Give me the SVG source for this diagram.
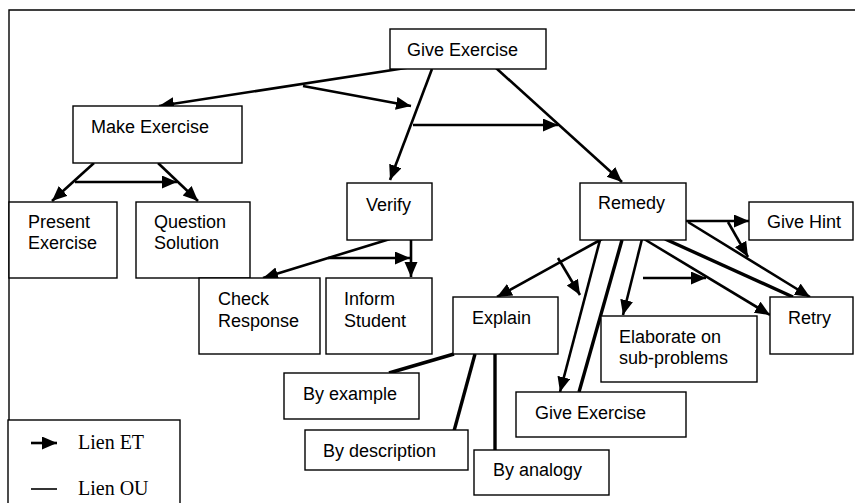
<svg xmlns="http://www.w3.org/2000/svg" width="855" height="503" viewBox="0 0 855 503">
<style>
.box{fill:#fff;stroke:#000;stroke-width:1.4}
.t{font-family:"Liberation Sans",Arial,sans-serif;font-size:18px;fill:#000}
.lt{font-family:"Liberation Serif","Times New Roman",serif;font-size:20px;fill:#000}
.a{stroke:#000;stroke-width:2.6;fill:none;marker-end:url(#ah)}
.o{stroke:#000;stroke-width:3.4;fill:none}
</style>
<defs>
<marker id="ah" markerUnits="userSpaceOnUse" markerWidth="16" markerHeight="14" refX="15" refY="6.5" orient="auto">
<path d="M0,0 L15,6.5 L0,13 z" fill="#000"/>
</marker>
</defs>
<rect width="855" height="503" fill="#fff"/>
<g id="frame"><path d="M9,503 V10 H855" fill="none" stroke="#000" stroke-width="1.4"/></g>
<g id="connectors">
<line class="a" x1="412" y1="67" x2="159" y2="106"/>
<line class="a" x1="303" y1="86" x2="411" y2="106"/>
<line class="a" x1="432" y1="69" x2="390" y2="180"/>
<line class="a" x1="413" y1="125" x2="558" y2="125"/>
<line class="a" x1="496" y1="68" x2="622" y2="182"/>
<line class="a" x1="94" y1="163" x2="52" y2="201"/>
<line class="a" x1="158" y1="163" x2="198" y2="201"/>
<line class="a" x1="75" y1="182" x2="177" y2="182"/>
<line class="a" x1="390" y1="239" x2="263" y2="278"/>
<line class="a" x1="411" y1="240" x2="411" y2="277"/>
<line class="a" x1="328" y1="258" x2="410" y2="258"/>
<line class="a" x1="685" y1="221" x2="749" y2="221"/>
<line class="a" x1="688" y1="222" x2="810" y2="297"/>
<line class="o" x1="665" y1="239" x2="793" y2="297"/>
<line class="a" x1="728" y1="222" x2="748" y2="257"/>
<line class="a" x1="644" y1="239" x2="770" y2="315"/>
<line class="a" x1="643" y1="278" x2="706" y2="278"/>
<line class="a" x1="642" y1="239" x2="623" y2="315"/>
<line class="a" x1="602" y1="239" x2="497" y2="297"/>
<line class="a" x1="558" y1="258" x2="580" y2="295"/>
<line class="a" x1="600" y1="240" x2="560" y2="392"/>
<line class="o" x1="622" y1="240" x2="579" y2="392"/>
<line class="o" x1="454" y1="354" x2="389" y2="373"/>
<line class="o" x1="475" y1="354" x2="454" y2="431"/>
<line class="o" x1="495" y1="354" x2="495" y2="450"/>
</g>
<g id="give-exercise"><rect class="box" x="390" y="29" width="156" height="40"/><text class="t" x="407" y="56">Give Exercise</text></g>
<g id="make-exercise"><rect class="box" x="73" y="106" width="169" height="57"/><text class="t" x="91" y="133">Make Exercise</text></g>
<g id="present-exercise"><rect class="box" x="9" y="202" width="108" height="76"/><text class="t" x="28" y="228">Present</text><text class="t" x="28" y="249">Exercise</text></g>
<g id="question-solution"><rect class="box" x="136" y="202" width="114" height="76"/><text class="t" x="154" y="228">Question</text><text class="t" x="154" y="249">Solution</text></g>
<g id="verify"><rect class="box" x="347" y="183" width="85" height="57"/><text class="t" x="366" y="211">Verify</text></g>
<g id="check-response"><rect class="box" x="199" y="278" width="121" height="76"/><text class="t" x="218" y="305">Check</text><text class="t" x="218" y="327">Response</text></g>
<g id="inform-student"><rect class="box" x="326" y="278" width="106" height="76"/><text class="t" x="344" y="305">Inform</text><text class="t" x="344" y="327">Student</text></g>
<g id="remedy"><rect class="box" x="580" y="183" width="106" height="57"/><text class="t" x="598" y="209">Remedy</text></g>
<g id="give-hint"><rect class="box" x="749" y="202" width="104" height="38"/><text class="t" x="767" y="228">Give Hint</text></g>
<g id="explain"><rect class="box" x="453" y="297" width="105" height="57"/><text class="t" x="472" y="324">Explain</text></g>
<g id="elaborate"><rect class="box" x="601" y="316" width="156" height="66"/><text class="t" x="619" y="343">Elaborate on</text><text class="t" x="619" y="364">sub-problems</text></g>
<g id="retry"><rect class="box" x="770" y="297" width="83" height="57"/><text class="t" x="788" y="324">Retry</text></g>
<g id="give-exercise-2"><rect class="box" x="516" y="392" width="170" height="45"/><text class="t" x="535" y="419">Give Exercise</text></g>
<g id="by-example"><rect class="box" x="284" y="373" width="135" height="46"/><text class="t" x="303" y="400">By example</text></g>
<g id="by-description"><rect class="box" x="305" y="430" width="163" height="40"/><text class="t" x="323" y="457">By description</text></g>
<g id="by-analogy"><rect class="box" x="474" y="450" width="135" height="45"/><text class="t" x="493" y="476">By analogy</text></g>
<g id="legend">
<rect class="box" x="8" y="420" width="172" height="90"/>
<line class="a" x1="31" y1="443" x2="57" y2="443"/>
<text class="lt" x="78" y="449">Lien ET</text>
<line x1="31" y1="489" x2="57" y2="489" stroke="#000" stroke-width="1.6"/>
<text class="lt" x="78" y="495">Lien OU</text>
</g>
</svg>
